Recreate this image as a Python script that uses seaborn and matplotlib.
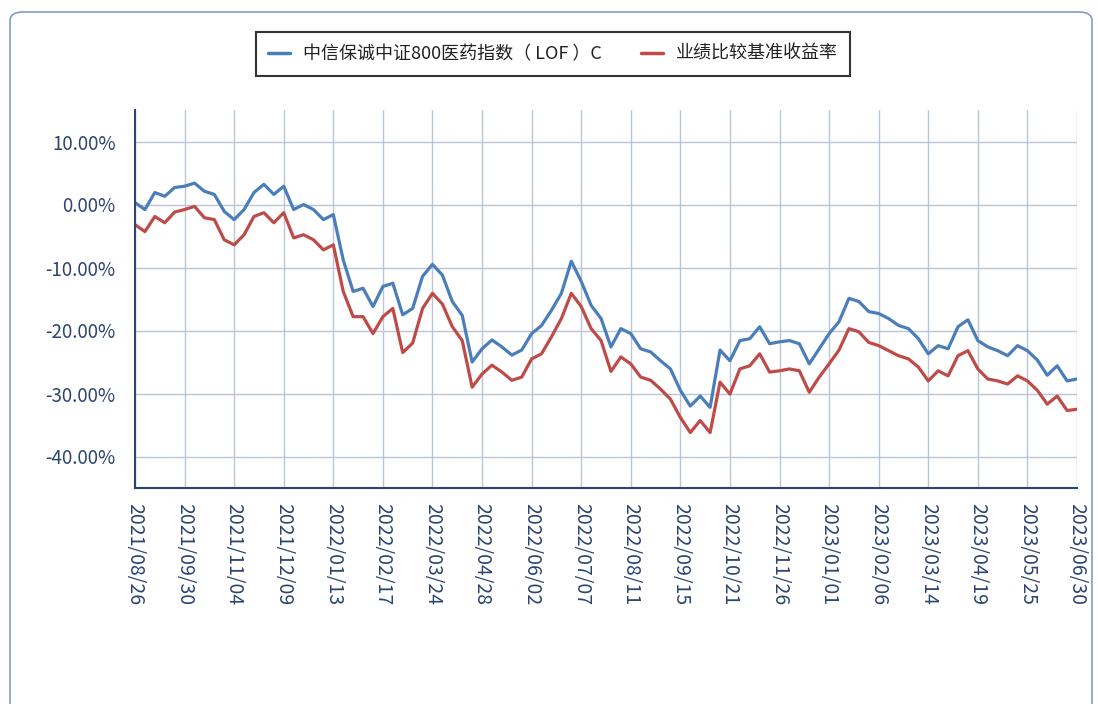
import numpy as np
import pandas as pd
import seaborn as sns
import matplotlib.pyplot as plt
from matplotlib.patches import FancyBboxPatch

# 读图得到的数据（每个刻度区间取5个点）
fund_name = '中信保诚中证800医药指数（ LOF ）C'
bench_name = '业绩比较基准收益率'

fund = [0.3, -0.8, 1.9, 1.3, 2.7, 2.9, 3.4, 2.1, 1.6, -1.1,
        -2.4, -0.8, 1.9, 3.2, 1.6, 2.9, -0.8, 0.0, -0.8, -2.4,
        -1.6, -8.8, -13.8, -13.3, -16.2, -13.0, -12.5, -17.5, -16.5, -11.4,
        -9.5, -11.2, -15.4, -17.6, -25.0, -22.9, -21.5, -22.6, -23.9, -23.1,
        -20.5, -19.2, -16.8, -14.1, -9.0, -12.2, -16.0, -18.1, -22.6, -19.7,
        -20.5, -22.9, -23.4, -24.8, -26.1, -29.5, -32.0, -30.4, -32.2, -23.1,
        -24.8, -21.6, -21.3, -19.4, -22.1, -21.8, -21.6, -22.1, -25.3, -22.9,
        -20.5, -18.6, -14.9, -15.4, -17.0, -17.3, -18.1, -19.2, -19.7, -21.3,
        -23.7, -22.4, -22.9, -19.4, -18.3, -21.6, -22.6, -23.2, -24.0, -22.4,
        -23.2, -24.7, -27.1, -25.6, -28.0, -27.7]

bench = [-3.2, -4.3, -1.9, -2.9, -1.2, -0.8, -0.3, -2.1, -2.4, -5.6,
         -6.4, -4.8, -1.9, -1.3, -2.9, -1.3, -5.3, -4.8, -5.6, -7.2,
         -6.4, -13.8, -17.8, -17.8, -20.5, -17.8, -16.5, -23.5, -22.0, -16.5,
         -14.1, -15.8, -19.4, -21.6, -29.0, -26.9, -25.5, -26.6, -27.9, -27.4,
         -24.5, -23.7, -21.0, -18.1, -14.1, -16.2, -19.7, -21.6, -26.5, -24.2,
         -25.3, -27.4, -27.9, -29.3, -30.9, -33.8, -36.2, -34.3, -36.2, -28.2,
         -30.1, -26.1, -25.6, -23.7, -26.6, -26.4, -26.1, -26.4, -29.8, -27.4,
         -25.3, -23.1, -19.7, -20.2, -21.9, -22.4, -23.2, -24.0, -24.5, -25.8,
         -28.0, -26.4, -27.2, -24.0, -23.2, -26.1, -27.7, -28.0, -28.5, -27.2,
         -28.0, -29.5, -31.7, -30.4, -32.7, -32.5]

date_labels = ['2021/08/26', '2021/09/30', '2021/11/04', '2021/12/09', '2022/01/13',
               '2022/02/17', '2022/03/24', '2022/04/28', '2022/06/02', '2022/07/07',
               '2022/08/11', '2022/09/15', '2022/10/21', '2022/11/26', '2023/01/01',
               '2023/02/06', '2023/03/14', '2023/04/19', '2023/05/25', '2023/06/30']
y_ticks = [10, 0, -10, -20, -30, -40]
y_labels = ['10.00%', '0.00%', '-10.00%', '-20.00%', '-30.00%', '-40.00%']

n = len(fund)
df = pd.DataFrame({
    'idx': list(range(n)) * 2,
    'value': fund + bench,
    'series': [fund_name] * n + [bench_name] * n,
})

sns.set_style('white')
plt.rcParams['font.family'] = ['Noto Sans CJK SC', 'DejaVu Sans']

navy = '#2C4470'
fig = plt.figure(figsize=(10.98, 7.04), dpi=100)
ax = fig.add_axes([135 / 1098, 1 - 488 / 704, 942 / 1098, 378 / 704])

sns.lineplot(data=df, x='idx', y='value', hue='series',
             palette=['#4A7EBB', '#BE4B48'], linewidth=2.3, ax=ax, legend=False)

step = 5
ax.set_xlim(0, (len(date_labels) - 1) * step)
ax.set_ylim(-45, 15)
ax.set_xticks(np.arange(len(date_labels)) * step)
ax.set_xticklabels(date_labels, rotation=270, fontsize=14, color=navy)
ax.set_yticks(y_ticks)
ax.set_yticklabels(y_labels, fontsize=13.5, color=navy)
ax.set_xlabel('')
ax.set_ylabel('')
ax.grid(True, color='#B9C6DA', linewidth=1.0)
ax.tick_params(axis='x', length=8, width=1.2, color=navy, pad=3)
ax.tick_params(axis='y', length=6, width=1.2, color=navy, pad=8)
for s in ['top', 'right']:
    ax.spines[s].set_visible(False)
for s in ['left', 'bottom']:
    ax.spines[s].set_color(navy)
    ax.spines[s].set_linewidth(1.5)

# 图例
handles = [plt.Line2D([], [], color='#4A7EBB', lw=2.5),
           plt.Line2D([], [], color='#BE4B48', lw=2.5)]
leg = fig.legend(handles, [fund_name, bench_name], loc='center',
                 bbox_to_anchor=(553 / 1098, 1 - 54 / 704), ncol=2,
                 fontsize=13, frameon=True, fancybox=False, handlelength=1.2,
                 columnspacing=2.2, handletextpad=0.7, borderpad=0.7,
                 borderaxespad=0)
leg.get_frame().set_edgecolor('black')
leg.get_frame().set_linewidth(1.5)
for t in leg.get_texts():
    t.set_color('#222222')

# 外框
frame = FancyBboxPatch((10 / 1098, -0.05), 1082 / 1098, 1.05 - 12 / 704,
                       boxstyle='round,pad=0,rounding_size=0.012',
                       transform=fig.transFigure, facecolor='none',
                       edgecolor='#7F9CC8', linewidth=1.2, clip_on=False)
fig.patches.append(frame)

plt.savefig('out.png', dpi=100)
